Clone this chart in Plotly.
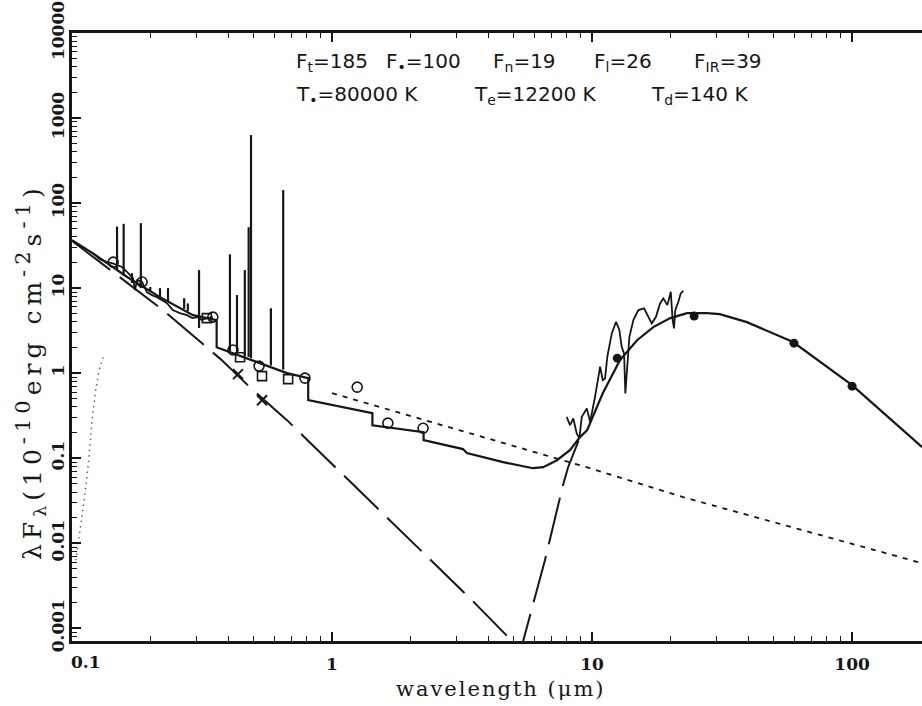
import plotly.graph_objects as go

# ---------------- data ----------------
# total model (solid, with Balmer / Paschen / Brackett / Pfund jumps and dust hump)
total_wl = [0.100, 0.120, 0.163, 0.218, 0.292, 0.360, 0.360, 0.416, 0.528, 0.671,
            0.810, 0.810, 1.43, 1.43, 2.25, 2.25, 3.19, 3.30, 4.55, 5.93, 6.49,
            7.33, 8.22, 8.99, 9.57, 11.0, 12.8, 14.9, 17.2, 20.0, 23.2, 27.7,
            31.0, 39.4, 59.3, 100.0, 186.0]
total_flux = [36.7, 25.8, 13.5, 7.83, 4.81, 4.21, 2.02, 1.72, 1.31, 1.00,
              0.873, 0.481, 0.338, 0.244, 0.202, 0.163, 0.128, 0.115, 0.0897, 0.0762, 0.0783,
              0.0946, 0.124, 0.177, 0.213, 0.582, 1.42, 2.44, 3.48, 4.44, 5.08, 5.08,
              4.94, 3.98, 2.32, 0.723, 0.135]

# hot star component (long dashes)
star_wl = [0.100, 0.224, 0.377, 0.484, 0.671, 1.53, 3.45, 4.92, 5.20]
star_flux = [36.0, 5.5, 1.42, 0.68, 0.28, 0.0244, 0.00214, 0.00071, 0.0004]

# dust component rising part (long dashes)
dust_wl = [5.19, 5.43, 6.59, 7.73, 8.09, 8.99]
dust_flux = [0.00042, 0.00071, 0.0063, 0.0481, 0.0783, 0.177]

# nebular continuum (short dashes)
neb_wl = [1.0, 9.82, 22.4, 186.0]
neb_flux = [0.582, 0.0762, 0.0348, 0.00582]

# faint dotted curve at far left
cool_wl = [0.1035, 0.1074, 0.112, 0.116, 0.119, 0.1225, 0.127, 0.1327]
cool_flux = [0.0063, 0.0142, 0.0367, 0.0947, 0.244, 0.551, 1.08, 1.63]

# UV observed spectrum
uv_wl = [0.1205, 0.128, 0.1365, 0.1426, 0.149, 0.1557, 0.163, 0.167, 0.1717, 0.1746,
         0.178, 0.186, 0.194, 0.203, 0.212, 0.222, 0.232, 0.244, 0.260, 0.277,
         0.290, 0.303, 0.316, 0.330, 0.348]
uv_flux = [25.8, 21.9, 20.2, 19.7, 18.7, 17.7, 15.4, 14.2, 13.1, 9.47,
           12.4, 11.8, 8.97, 8.27, 7.83, 7.22, 6.66, 5.51, 5.08, 4.81,
           4.44, 4.56, 4.21, 4.44, 4.56]

# IR observed spectrum
ir_wl = [7.99, 8.23, 8.47, 8.73, 8.94, 9.13, 9.55, 9.83, 10.27, 10.74, 11.0, 11.22,
         11.45, 11.91, 12.37, 12.74, 13.0, 13.28, 13.43, 13.6, 13.92, 14.42, 15.07,
         15.85, 16.46, 16.97, 17.62, 18.26, 18.8, 19.49, 20.08, 20.42, 20.67, 20.9,
         21.48, 21.93, 22.45]
ir_flux = [0.306, 0.244, 0.293, 0.195, 0.171, 0.306, 0.384, 0.267, 0.526, 1.19, 0.828, 0.867,
           1.56, 2.93, 4.01, 3.21, 2.04, 1.71, 0.577, 1.08, 2.67, 4.21, 5.51,
           5.77, 4.59, 3.85, 4.59, 6.61, 7.57, 6.31, 9.04, 4.21, 3.36, 5.51,
           6.9, 8.67, 9.3]

# emission lines: wavelength, base and peak
line_wl = [0.149, 0.158, 0.170, 0.184, 0.200, 0.218, 0.234, 0.270, 0.279, 0.308,
           0.405, 0.431, 0.462, 0.478, 0.488, 0.582, 0.649]
line_base = [16.0, 14.0, 11.5, 10.0, 9.0, 7.8, 7.0, 5.7, 5.4, 3.4,
             1.82, 1.72, 1.58, 1.55, 1.50, 1.23, 1.10]
line_peak = [53.0, 57.0, 15.0, 58.0, 10.3, 10.0, 10.0, 7.6, 6.6, 16.3,
             25.0, 8.3, 16.3, 52.0, 630.0, 5.8, 142.0]

# photometry
circ_wl = [0.144, 0.186, 0.348, 0.416, 0.524, 0.787, 1.25, 1.64, 2.24]
circ_flux = [20.2, 11.8, 4.56, 1.87, 1.21, 0.873, 0.684, 0.258, 0.225]
sq_wl = [0.330, 0.443, 0.538, 0.678]
sq_flux = [4.44, 1.54, 0.923, 0.85]
x_wl = [0.435, 0.538]
x_flux = [0.973, 0.481]
iras_wl = [12.5, 24.7, 59.8, 100.0]
iras_flux = [1.5, 4.69, 2.25, 0.703]

# axis ticks
x_major = [0.1, 1, 10, 100]
x_labels = ["", "1", "10", "100"]
y_major = [0.001, 0.01, 0.1, 1, 10, 100, 1000, 10000]
y_labels = ["0.001", "0.01", "0.1", "1", "10", "100", "1000", "10000"]

INK = "#161616"

# ---------------- figure ----------------
fig = go.Figure()

fig.add_trace(go.Scatter(x=cool_wl, y=cool_flux, mode="lines",
                         line=dict(color="#666666", width=1.5, dash="1.5px,4px")))
fig.add_trace(go.Scatter(x=neb_wl, y=neb_flux, mode="lines",
                         line=dict(color=INK, width=1.8, dash="5px,6px")))
fig.add_trace(go.Scatter(x=star_wl, y=star_flux, mode="lines",
                         line=dict(color=INK, width=2, dash="48px,12px")))
fig.add_trace(go.Scatter(x=dust_wl, y=dust_flux, mode="lines",
                         line=dict(color=INK, width=2, dash="48px,12px")))
fig.add_trace(go.Scatter(x=total_wl, y=total_flux, mode="lines",
                         line=dict(color=INK, width=2.2)))
fig.add_trace(go.Scatter(x=uv_wl, y=uv_flux, mode="lines",
                         line=dict(color=INK, width=1.8)))
fig.add_trace(go.Scatter(x=ir_wl, y=ir_flux, mode="lines",
                         line=dict(color=INK, width=1.8)))

lx, ly = [], []
for w, b, p in zip(line_wl, line_base, line_peak):
    lx += [w, w, None]
    ly += [b, p, None]
fig.add_trace(go.Scatter(x=lx, y=ly, mode="lines", line=dict(color=INK, width=2.2)))

fig.add_trace(go.Scatter(x=circ_wl, y=circ_flux, mode="markers",
                         marker=dict(symbol="circle-open", size=10, color=INK, line=dict(width=1.6))))
fig.add_trace(go.Scatter(x=sq_wl, y=sq_flux, mode="markers",
                         marker=dict(symbol="square-open", size=9, color=INK, line=dict(width=1.6))))
fig.add_trace(go.Scatter(x=x_wl, y=x_flux, mode="markers",
                         marker=dict(symbol="x-thin", size=10, color=INK, line=dict(width=2, color=INK))))
fig.add_trace(go.Scatter(x=iras_wl, y=iras_flux, mode="markers",
                         marker=dict(symbol="circle", size=9, color=INK)))

# plot area in pixels
L, R, T, B = 72, 922, 33, 641
def px(xp, yp):
    return (xp - L) / (R - L), (B - yp) / (B - T)

x_minor = [0.2, 0.3, 0.4, 0.5, 0.6, 0.7, 0.8, 0.9,
           2, 3, 4, 5, 6, 7, 8, 9, 20, 30, 40, 50, 60, 70, 80, 90]
y_minor = [m * 10 ** k for k in range(-4, 4) for m in range(2, 10)]
y_minor = [v for v in y_minor if 0.0007 < v < 10000]

tickfont = dict(family="DejaVu Serif", size=17, color=INK, weight="bold")

fig.update_layout(
    width=922, height=706,
    margin=dict(l=L, r=922 - R, t=T, b=706 - B),
    plot_bgcolor="white", paper_bgcolor="white",
    showlegend=False,
)
fig.update_xaxes(
    type="log", range=[-1, 2.269],
    showline=True, linewidth=2.5, linecolor=INK, mirror="ticks",
    ticks="inside", ticklen=9, tickwidth=1.5, tickcolor=INK,
    tickvals=x_major, ticktext=x_labels, tickfont=tickfont,
    ticklabelstandoff=6,
    minor=dict(tickvals=x_minor, ticks="inside", ticklen=5, tickwidth=1.2, tickcolor=INK),
    showgrid=False, zeroline=False,
)
fig.update_yaxes(
    type="log", range=[-3.15, 4.0],
    showline=True, linewidth=2.5, linecolor=INK, mirror=False,
    ticks="inside", ticklen=9, tickwidth=1.5, tickcolor=INK,
    tickvals=y_major, ticktext=y_labels, tickfont=tickfont, tickangle=-90,
    ticklabelstandoff=-2,
    minor=dict(tickvals=y_minor, ticks="inside", ticklen=5, tickwidth=1.2, tickcolor=INK),
    showgrid=False, zeroline=False,
)

ann = []
# x tick label 0.1 (shifted right of the axis corner)
ax, ay = px(86, 662)
ann.append(dict(x=ax, y=ay, text="0.1", showarrow=False, xref="paper", yref="paper",
                xanchor="center", yanchor="middle", font=tickfont))
# axis titles
ax, ay = px(500, 689)
ann.append(dict(x=ax, y=ay,
                text='<span style="letter-spacing:2px">wavelength (\u03bcm)</span>',
                showarrow=False, xref="paper", yref="paper",
                xanchor="center", yanchor="middle",
                font=dict(family="DejaVu Serif", size=21, color=INK)))
ax, ay = px(30, 372)
sup = '<sup><span style="font-size:21px">%s</span></sup>'
ytitle = ('<span style="letter-spacing:5px">\u03bbF<sub>\u03bb</sub>(10' + sup % '-10' +
          'erg cm' + sup % '-2' + 's' + sup % '-1' + ')</span>')
ann.append(dict(x=ax, y=ay, textangle=-90, text=ytitle,
                showarrow=False, xref="paper", yref="paper",
                xanchor="center", yanchor="middle",
                font=dict(family="DejaVu Serif", size=25, color=INK)))

# parameter text
tfont = dict(family="DejaVu Sans", size=20, color=INK)
row1 = [(294, "F<sub>t</sub>=185"), (384, "F<sub>\u2022</sub>=100"), (491, "F<sub>n</sub>=19"),
        (592, "F<sub>l</sub>=26"), (692, "F<sub>IR</sub>=39")]
row2 = [(294, "T<sub>\u2022</sub>=80000 K"), (472, "T<sub>e</sub>=12200 K"), (649, "T<sub>d</sub>=140 K")]
for xp, t in row1:
    ax, ay = px(xp, 62)
    ann.append(dict(x=ax, y=ay, text=t, showarrow=False, xref="paper", yref="paper",
                    xanchor="left", yanchor="middle", font=tfont))
for xp, t in row2:
    ax, ay = px(xp, 95)
    ann.append(dict(x=ax, y=ay, text=t, showarrow=False, xref="paper", yref="paper",
                    xanchor="left", yanchor="middle", font=tfont))

fig.update_layout(annotations=ann)
fig.write_html("out.html",
               config={"displayModeBar": False},
               post_script="document.body.style.margin='0';document.body.style.overflow='hidden';")
